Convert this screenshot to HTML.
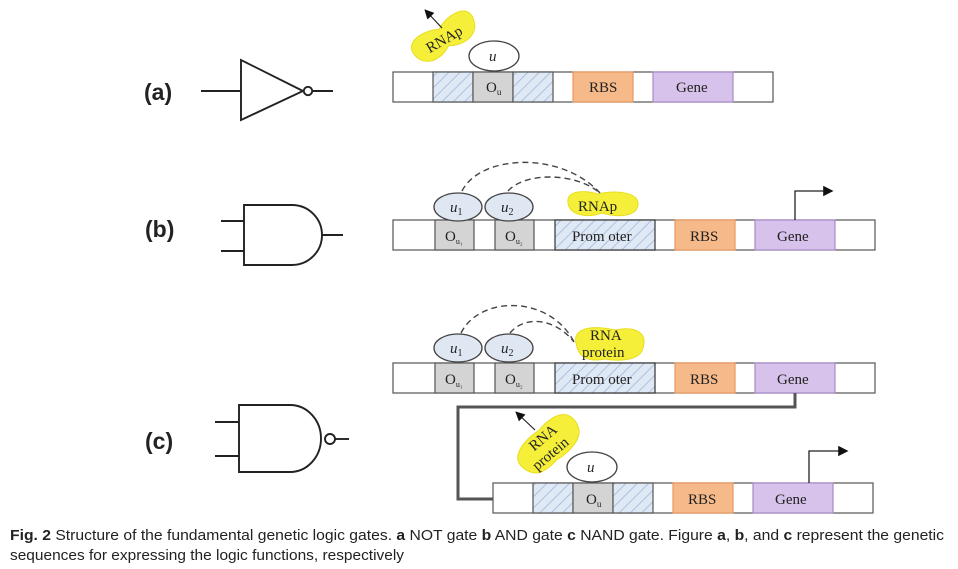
<!DOCTYPE html>
<html><head><meta charset="utf-8"><style>
html,body{margin:0;padding:0;background:#fff;width:958px;height:569px;overflow:hidden}
svg{display:block}
.s{font-family:"Liberation Serif",serif;font-size:15px;fill:#222}
.lbl{font-family:"Liberation Sans",sans-serif;font-size:23px;font-weight:bold;fill:#222}
.cap{font-family:"Liberation Sans",sans-serif;font-size:14.5px;fill:#222}
</style></head><body>
<svg width="958" height="569" viewBox="0 0 958 569" xmlns="http://www.w3.org/2000/svg">
<defs>
<pattern id="h" width="8" height="8" patternUnits="userSpaceOnUse" patternTransform="rotate(45)">
<rect width="8" height="8" fill="#dfe8f5"/><line x1="0" y1="0" x2="0" y2="8" stroke="#9fb4d6" stroke-width="1.5"/>
</pattern>
<marker id="ar" markerWidth="8" markerHeight="8" refX="6" refY="4" orient="auto"><path d="M0,0 L8,4 L0,8 Z" fill="#111"/></marker>
</defs>
<g stroke="#222" stroke-width="1.9" fill="none">
<line x1="201" y1="91" x2="241" y2="91"/>
<path d="M241,60 L241,120 L303,91 Z" fill="#fff"/>
<circle cx="308" cy="91" r="4.2" fill="#fff"/>
<line x1="312" y1="91" x2="333" y2="91"/>
<line x1="221" y1="221" x2="244" y2="221"/><line x1="221" y1="251" x2="244" y2="251"/>
<path d="M244,205 L292,205 A30,30 0 0 1 292,265 L244,265 Z" fill="#fff"/>
<line x1="322" y1="235" x2="343" y2="235"/>
<line x1="215" y1="422" x2="239" y2="422"/><line x1="215" y1="456" x2="239" y2="456"/>
<path d="M239,405 L290,405 A31,33.5 0 0 1 290,472 L239,472 Z" fill="#fff"/>
<circle cx="330" cy="439" r="5" fill="#fff"/>
<line x1="335" y1="439" x2="349" y2="439"/>
</g>
<text class="lbl" x="144" y="100">(a)</text>
<text class="lbl" x="145" y="237">(b)</text>
<text class="lbl" x="145" y="449">(c)</text>

<g stroke="#555" stroke-width="1.2">
<rect x="393" y="72" width="380" height="30" fill="#fff"/>
<rect x="433" y="72" width="40" height="30" fill="url(#h)"/>
<rect x="473" y="72" width="40" height="30" fill="#d4d4d4"/>
<rect x="513" y="72" width="40" height="30" fill="url(#h)"/>
<rect x="573" y="72" width="60" height="30" fill="#f6b989" stroke="#e89860"/>
<rect x="653" y="72" width="80" height="30" fill="#d6c2ea" stroke="#a98ac9"/>
</g>
<text class="s" x="486" y="92">O<tspan font-size="9" dy="3">u</tspan></text>
<text class="s" x="589" y="92">RBS</text>
<text class="s" x="676" y="92">Gene</text>
<ellipse cx="494" cy="56" rx="25" ry="15" fill="#fff" stroke="#444" stroke-width="1.3"/>
<text class="s" x="489" y="61" font-style="italic">u</text>
<g transform="rotate(-30 444 38)">
<path d="M410,38 C407,21 431,21 444,28 C458,19 482,19 479,36 C476,54 456,54 444,47 C431,56 413,54 410,38Z" fill="#f6ef3a" stroke="#e8de20"/>
<text class="s" x="424" y="44" font-size="17">RNAp</text>
</g>
<line x1="442" y1="28" x2="426" y2="11" stroke="#222" stroke-width="1.2" marker-end="url(#ar)"/>

<g stroke="#555" stroke-width="1.2">
<rect x="393" y="220" width="482" height="30" fill="#fff"/>
<rect x="435" y="220" width="39" height="30" fill="#d4d4d4"/>
<rect x="495" y="220" width="39" height="30" fill="#d4d4d4"/>
<rect x="555" y="220" width="100" height="30" fill="url(#h)" stroke="#333"/>
<rect x="675" y="220" width="60" height="30" fill="#f6b989" stroke="#e89860"/>
<rect x="755" y="220" width="80" height="30" fill="#d6c2ea" stroke="#a98ac9"/>
</g>
<text class="s" x="445" y="241">O<tspan font-size="8" dy="3">u₁</tspan></text>
<text class="s" x="505" y="241">O<tspan font-size="8" dy="3">u₂</tspan></text>
<text class="s" x="572" y="241">Prom oter</text>
<text class="s" x="690" y="241">RBS</text>
<text class="s" x="777" y="241">Gene</text>
<path d="M568,203 C566,190 585,190 598,194 C615,190 640,192 638,205 C636,218 615,217 602,213 C588,218 570,216 568,203Z" fill="#f6ef3a" stroke="#e8de20"/>
<text class="s" x="578" y="211" font-size="16">RNAp</text>
<ellipse cx="458" cy="207" rx="24" ry="14" fill="#dfe7f3" stroke="#444" stroke-width="1.3"/>
<ellipse cx="509" cy="207" rx="24" ry="14" fill="#dfe7f3" stroke="#444" stroke-width="1.3"/>
<text class="s" x="450" y="212" font-style="italic">u<tspan font-size="10" font-style="normal" dy="3">1</tspan></text>
<text class="s" x="501" y="212" font-style="italic">u<tspan font-size="10" font-style="normal" dy="3">2</tspan></text>
<g stroke="#444" stroke-width="1.4" fill="none" stroke-dasharray="6,4">
<path d="M462,191 C480,155 560,150 600,193"/>
<path d="M508,191 C525,172 575,172 600,193"/>
</g>
<path d="M795,220 L795,191 L831,191" stroke="#222" stroke-width="1.3" fill="none" marker-end="url(#ar)"/>

<g stroke="#555" stroke-width="1.2">
<rect x="393" y="363" width="482" height="30" fill="#fff"/>
<rect x="435" y="363" width="39" height="30" fill="#d4d4d4"/>
<rect x="495" y="363" width="39" height="30" fill="#d4d4d4"/>
<rect x="555" y="363" width="100" height="30" fill="url(#h)" stroke="#333"/>
<rect x="675" y="363" width="60" height="30" fill="#f6b989" stroke="#e89860"/>
<rect x="755" y="363" width="80" height="30" fill="#d6c2ea" stroke="#a98ac9"/>
</g>
<text class="s" x="445" y="384">O<tspan font-size="8" dy="3">u₁</tspan></text>
<text class="s" x="505" y="384">O<tspan font-size="8" dy="3">u₂</tspan></text>
<text class="s" x="572" y="384">Prom oter</text>
<text class="s" x="690" y="384">RBS</text>
<text class="s" x="777" y="384">Gene</text>
<path d="M576,343 C572,325 600,326 615,330 C635,326 648,332 643,348 C640,362 615,361 605,359 C585,363 578,355 576,343Z" fill="#f6ef3a" stroke="#e8de20"/>
<text class="s" x="590" y="340">RNA</text>
<text class="s" x="582" y="357">protein</text>
<ellipse cx="458" cy="348" rx="24" ry="14" fill="#dfe7f3" stroke="#444" stroke-width="1.3"/>
<ellipse cx="509" cy="348" rx="24" ry="14" fill="#dfe7f3" stroke="#444" stroke-width="1.3"/>
<text class="s" x="450" y="353" font-style="italic">u<tspan font-size="10" font-style="normal" dy="3">1</tspan></text>
<text class="s" x="501" y="353" font-style="italic">u<tspan font-size="10" font-style="normal" dy="3">2</tspan></text>
<g stroke="#444" stroke-width="1.4" fill="none" stroke-dasharray="6,4">
<path d="M461,333 C480,295 550,295 574,342"/>
<path d="M510,333 C525,315 555,318 574,342"/>
</g>
<path d="M795,393 L795,407 L458,407 L458,499 L493,499" stroke="#555" stroke-width="3" fill="none"/>
<g stroke="#555" stroke-width="1.2">
<rect x="493" y="483" width="380" height="30" fill="#fff"/>
<rect x="533" y="483" width="40" height="30" fill="url(#h)"/>
<rect x="573" y="483" width="40" height="30" fill="#d4d4d4"/>
<rect x="613" y="483" width="40" height="30" fill="url(#h)"/>
<rect x="673" y="483" width="60" height="30" fill="#f6b989" stroke="#e89860"/>
<rect x="753" y="483" width="80" height="30" fill="#d6c2ea" stroke="#a98ac9"/>
</g>
<text class="s" x="586" y="504">O<tspan font-size="9" dy="3">u</tspan></text>
<text class="s" x="688" y="504">RBS</text>
<text class="s" x="775" y="504">Gene</text>
<ellipse cx="592" cy="467" rx="25" ry="15" fill="#fff" stroke="#444" stroke-width="1.3"/>
<text class="s" x="587" y="472" font-style="italic">u</text>
<g transform="rotate(-40 548 445)">
<path d="M514,445 C512,428 538,426 550,428 C572,424 586,430 584,446 C582,464 557,464 545,462 C523,465 516,458 514,445Z" fill="#f6ef3a" stroke="#e8de20"/>
<text class="s" x="533" y="441" font-size="16">RNA</text>
<text class="s" x="523" y="458" font-size="16">protein</text>
</g>
<line x1="535" y1="430" x2="517" y2="413" stroke="#222" stroke-width="1.2" marker-end="url(#ar)"/>
<path d="M809,483 L809,451 L846,451" stroke="#222" stroke-width="1.3" fill="none" marker-end="url(#ar)"/>

<text class="cap" x="10" y="540" textLength="934" lengthAdjust="spacingAndGlyphs"><tspan font-weight="bold">Fig. 2</tspan> Structure of the fundamental genetic logic gates. <tspan font-weight="bold">a</tspan> NOT gate <tspan font-weight="bold">b</tspan> AND gate <tspan font-weight="bold">c</tspan> NAND gate. Figure <tspan font-weight="bold">a</tspan>, <tspan font-weight="bold">b</tspan>, and <tspan font-weight="bold">c</tspan> represent the genetic</text>
<text class="cap" x="10" y="560" textLength="394" lengthAdjust="spacingAndGlyphs">sequences for expressing the logic functions, respectively</text>
</svg>
</body></html>
